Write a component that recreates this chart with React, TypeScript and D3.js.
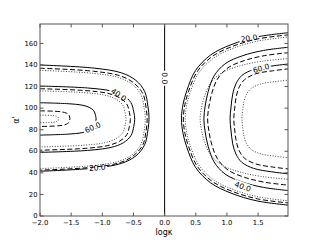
import React from "react";
import * as d3 from "d3";

type P = [number, number];

// x: log kappa, y: alpha'
const xTicks = [-2, -1.5, -1, -0.5, 0, 0.5, 1, 1.5];
const yTicks = [0, 20, 40, 60, 80, 100, 120, 140, 160];

// left family (logκ < 0)
const left20Solid: P[] = [[-2,140],[-1.125,137.05],[-0.6875,132.6],[-0.46,125.7],[-0.32,115.4],[-0.2675,101.6],[-0.25,90.75],[-0.2675,79.9],[-0.32,66.1],[-0.46,55.8],[-0.6875,48.9],[-1.125,44.45],[-2,41.5]];
const left20Dashed: P[] = [[-2,137],[-1.14,134.2],[-0.71,129.9],[-0.494,123.3],[-0.349,113.4],[-0.297,100.2],[-0.28,89.75],[-0.297,79.35],[-0.349,66.1],[-0.494,56.2],[-0.71,49.6],[-1.14,45.3],[-2,42.5]];
const left20Dotted: P[] = [[-2,135],[-1.155,132.3],[-0.7325,128.2],[-0.513,121.8],[-0.378,112.25],[-0.327,99.5],[-0.31,89.5],[-0.327,79.5],[-0.378,66.75],[-0.513,57.2],[-0.7325,50.8],[-1.155,46.7],[-2,44]];
const left40Solid: P[] = [[-2,120.5],[-1.24,118.7],[-0.86,115.9],[-0.662,111.6],[-0.541,105.1],[-0.495,96.5],[-0.48,89.75],[-0.495,83],[-0.541,74.4],[-0.662,67.9],[-0.86,63.6],[-1.24,60.8],[-2,59]];
const left40Dashed: P[] = [[-2,118],[-1.275,116.3],[-0.9125,113.7],[-0.724,109.7],[-0.608,103.75],[-0.5645,95.8],[-0.55,89.5],[-0.5645,83.2],[-0.608,75.25],[-0.724,69.3],[-0.9125,65.3],[-1.275,62.7],[-2,61]];
const left40Dotted: P[] = [[-2,116],[-1.31,114.4],[-0.965,112.1],[-0.786,108.5],[-0.675,103],[-0.634,95.7],[-0.62,90],[-0.634,84.3],[-0.675,77],[-0.786,71.5],[-0.965,67.9],[-1.31,65.6],[-2,64]];
const left60Solid: P[] = [[-2,105],[-1.55,104.1],[-1.325,102.75],[-1.208,100.65],[-1.136,97.5],[-1.109,93.3],[-1.1,90],[-1.109,86.7],[-1.136,82.5],[-1.208,79.35],[-1.325,77.25],[-1.55,75.9],[-2,75]];
const left60Dashed: P[] = [[-2,97.5],[-1.76,97.1],[-1.64,96.4],[-1.578,95.4],[-1.539,93.9],[-1.525,91.85],[-1.52,90.25],[-1.525,88.65],[-1.539,86.6],[-1.578,85.1],[-1.64,84.1],[-1.76,83.4],[-2,83]];
const left60Dotted: P[] = [[-2,93.5],[-1.85,93.3],[-1.775,93],[-1.736,92.5],[-1.712,91.75],[-1.703,90.8],[-1.7,90],[-1.703,89.2],[-1.712,88.25],[-1.736,87.5],[-1.775,87],[-1.85,86.7],[-2,86.5]];

// right family (logκ > 0)
const right20Solid: P[] = [[2,170],[1.481,166],[1.066,158.8],[0.737,149.2],[0.495,134.8],[0.357,116.4],[0.296,103.6],[0.27,90],[0.296,76.4],[0.357,63.6],[0.495,45.2],[0.737,30.8],[1.066,21.2],[1.481,14],[2,10]];
const right20Dashed: P[] = [[2,168],[1.49,164.1],[1.082,157.1],[0.759,147.7],[0.521,133.7],[0.385,115.7],[0.3255,103.3],[0.3,90],[0.3255,76.7],[0.385,64.3],[0.521,46.3],[0.759,32.3],[1.082,22.9],[1.49,15.9],[2,12]];
const right20Dotted: P[] = [[2,166],[1.499,162.2],[1.098,155.4],[0.781,146.2],[0.547,132.6],[0.4135,115.1],[0.355,102.9],[0.33,90],[0.355,77.1],[0.4135,64.9],[0.547,47.4],[0.781,33.8],[1.098,24.6],[1.499,17.8],[2,14]];
const right40Solid: P[] = [[2,156.5],[1.589,153.5],[1.2465,148.5],[0.9725,141.2],[0.794,129.9],[0.6985,115.3],[0.6506,102],[0.63,90],[0.6506,78],[0.6985,64.7],[0.794,50.1],[0.9725,38.8],[1.2465,31.5],[1.589,26.5],[2,23.5]];
const right40Dashed: P[] = [[2,151.5],[1.607,148.7],[1.2795,144.1],[1.0175,137.4],[0.847,126.9],[0.7555,113.4],[0.7097,101.1],[0.69,90],[0.7097,78.9],[0.7555,66.6],[0.847,53.1],[1.0175,42.6],[1.2795,35.9],[1.607,31.3],[2,28.5]];
const right40Dotted: P[] = [[2,146],[1.571,143.5],[1.2135,139.3],[0.9275,133.1],[0.742,123.6],[0.6415,111.3],[0.5915,100.1],[0.57,90],[0.5915,79.9],[0.6415,68.7],[0.742,56.4],[0.9275,46.9],[1.2135,40.7],[1.571,36.5],[2,34]];
const right60Solid: P[] = [[2,141],[1.715,139],[1.43,135.9],[1.24,130.3],[1.145,122.6],[1.0928,113],[1.0643,100.2],[1.05,90],[1.0643,79.8],[1.0928,67],[1.145,57.4],[1.24,49.7],[1.43,44.1],[1.715,41],[2,39]];
const right60Dashed: P[] = [[2,136.5],[1.733,134.6],[1.466,131.9],[1.288,126.7],[1.199,119.8],[1.15,110.9],[1.1234,99.3],[1.11,90],[1.1234,80.7],[1.15,69.1],[1.199,60.2],[1.288,53.3],[1.466,48.2],[1.733,45.4],[2,43.5]];
const right60Dotted: P[] = [[2,126],[1.772,124.6],[1.544,122.4],[1.392,118.4],[1.316,113],[1.2742,106.2],[1.2514,97.2],[1.24,90],[1.2514,82.8],[1.2742,73.8],[1.316,67],[1.392,61.6],[1.544,57.6],[1.772,55.4],[2,54]];

const zeroLine: P[] = [[0, 0], [0, 178]];

const solidCurves = [left20Solid, left40Solid, left60Solid, right20Solid, right40Solid, right60Solid, zeroLine];
const dashedCurves = [left20Dashed, left40Dashed, left60Dashed, right20Dashed, right40Dashed, right60Dashed];
const dottedCurves = [left20Dotted, left40Dotted, left60Dotted, right20Dotted, right40Dotted, right60Dotted];

// contour labels
const labelTexts = ["20.0", "40.0", "60.0", "0.0", "20.0", "60.0", "40.0"];
const labelLogK = [-1.08, -0.74, -1.153, 0, 1.355, 1.548, 1.253];
const labelAlpha = [44.6, 112.3, 82, 127.7, 164.7, 136.9, 27.1];
const labelAngle = [-5, 35, -24, 90, -8, -15, 20];

const W = 320, H = 240;
const M = { left: 40, right: 288, top: 24, bottom: 216 };

export default function App() {
  const x = d3.scaleLinear().domain([-2, 1.98]).range([M.left, M.right]);
  const y = d3.scaleLinear().domain([0, 178]).range([M.bottom, M.top]);
  const line = d3.line<P>().x(d => x(d[0])).y(d => y(d[1])).curve(d3.curveCatmullRom.alpha(0.5));
  const fmt = (v: number) => (v < 0 ? "\u2212" : "") + Math.abs(v).toFixed(1);
  const tickFs = 6.8;
  const labFs = 7.5;
  const textW = (s: string) => {
    let w = 0;
    for (const c of s) w += c === "." ? 0.318 : 0.636;
    return w * labFs;
  };
  const frame = "#555";
  const tl = 3.5;
  return (
    <svg width={W} height={H} style={{ position: "absolute", left: 0, top: 0, background: "#fff" }}
      fontFamily="DejaVu Sans, sans-serif">
      <defs>
        <clipPath id="plotClip">
          <rect x={M.left} y={M.top} width={M.right - M.left} height={M.bottom - M.top} />
        </clipPath>
        <mask id="labelGaps" maskUnits="userSpaceOnUse" x={0} y={0} width={W} height={H}>
          <rect x={0} y={0} width={W} height={H} fill="white" />
          {labelTexts.map((t, i) => {
            const w = textW(t) + 3;
            return (
              <rect key={i} x={-w / 2} y={-labFs / 2 - 1} width={w} height={labFs + 2} fill="black"
                transform={`translate(${x(labelLogK[i])},${y(labelAlpha[i])}) rotate(${labelAngle[i]})`} />
            );
          })}
        </mask>
      </defs>
      <rect x={0} y={0} width={W} height={H} fill="#fff" />
      <g clipPath="url(#plotClip)">
        <g mask="url(#labelGaps)">
          {solidCurves.map((c, i) => (
            <path key={i} d={line(c) || ""} fill="none" stroke="#000" strokeWidth={1} />
          ))}
        </g>
        {dashedCurves.map((c, i) => (
          <path key={i} d={line(c) || ""} fill="none" stroke="#000" strokeWidth={1} strokeDasharray="5,2.5" />
        ))}
        {dottedCurves.map((c, i) => (
          <path key={i} d={line(c) || ""} fill="none" stroke="#444" strokeWidth={1} strokeDasharray="1,1.6" />
        ))}
      </g>
      {labelTexts.map((t, i) => (
        <text key={i} fontSize={labFs} textAnchor="middle" dominantBaseline="central" fill="#000"
          transform={`translate(${x(labelLogK[i])},${y(labelAlpha[i])}) rotate(${labelAngle[i]})`}>{t}</text>
      ))}
      {/* frame */}
      <rect x={M.left} y={M.top} width={M.right - M.left} height={M.bottom - M.top} fill="none" stroke={frame} strokeWidth={1} />
      {/* x ticks */}
      {xTicks.map((v, i) => (
        <g key={i}>
          <line x1={x(v)} x2={x(v)} y1={M.bottom} y2={M.bottom - tl} stroke={frame} />
          <line x1={x(v)} x2={x(v)} y1={M.top} y2={M.top + tl} stroke={frame} />
          <text x={x(v)} y={224.5} fontSize={tickFs} textAnchor="middle" fill="#000">{fmt(v)}</text>
        </g>
      ))}
      {yTicks.map((v, i) => (
        <g key={i}>
          <line x1={M.left} x2={M.left + tl} y1={y(v)} y2={y(v)} stroke={frame} />
          <line x1={M.right} x2={M.right - tl} y1={y(v)} y2={y(v)} stroke={frame} />
          <text x={37.5} y={y(v) + 2.2} fontSize={tickFs} textAnchor="end" fill="#000">{v}</text>
        </g>
      ))}
      <text x={(M.left + M.right) / 2} y={234.5} fontSize={8} textAnchor="middle" fill="#000">logκ</text>
      <text transform={`translate(19,${(M.top + M.bottom) / 2}) rotate(-90)`} fontSize={8} textAnchor="middle" fill="#000">α'</text>
    </svg>
  );
}
